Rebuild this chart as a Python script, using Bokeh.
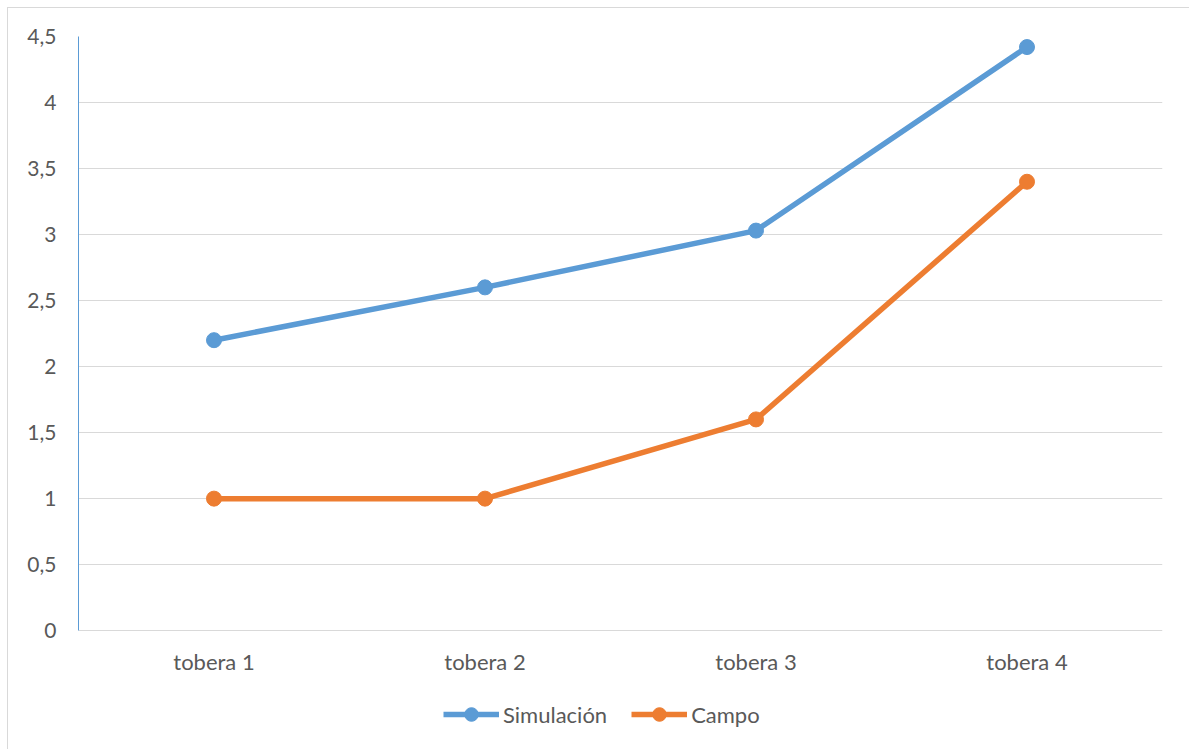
from bokeh.plotting import figure
from bokeh.models import FactorRange, Range1d, FixedTicker, Legend, LegendItem
from bokeh.core.properties import value
from bokeh.embed import file_html
from bokeh.resources import INLINE

categories = ["tobera 1", "tobera 2", "tobera 3", "tobera 4"]
simulacion = [2.2, 2.6, 3.03, 4.42]
campo = [1.0, 1.0, 1.6, 3.4]
y_ticks = [0, 0.5, 1, 1.5, 2, 2.5, 3, 3.5, 4, 4.5]
y_tick_labels = ["0", "0,5", "1", "1,5", "2", "2,5", "3", "3,5", "4", "4,5"]

FONT = "Lato"
BLUE = "#5b9bd5"
ORANGE = "#ed7d31"
GRID = "#d9d9d9"
TEXT = "#595959"

# frame extends below zero to host the category labels and the legend
p = figure(
    x_range=FactorRange(factors=categories, range_padding=0),
    y_range=Range1d(-0.9, 4.5),
    frame_width=1084, frame_height=713,
    output_backend="svg", toolbar_location=None,
    min_border_left=70, min_border_right=28, min_border_top=28, min_border_bottom=0,
)
p.styles = {"margin-left": "7px", "margin-top": "7px",
            "border-top": "1px solid #d9d9d9", "border-left": "1px solid #d9d9d9"}
p.outline_line_color = None
p.background_fill_color = "white"
p.border_fill_color = "white"

p.xgrid.grid_line_color = None
p.ygrid.grid_line_color = GRID
p.ygrid.grid_line_width = 1

p.yaxis.ticker = FixedTicker(ticks=y_ticks)
p.yaxis.bounds = (0, 4.5)
p.yaxis.major_label_overrides = {t: l for t, l in zip(y_ticks, y_tick_labels)}
p.yaxis.axis_line_color = BLUE
p.yaxis.axis_line_width = 1
p.yaxis.major_tick_line_color = None
p.yaxis.minor_tick_line_color = None
p.yaxis.major_tick_out = 0
p.yaxis.major_tick_in = 0
p.yaxis.major_label_standoff = 22
p.yaxis.major_label_text_font = FONT
p.yaxis.major_label_text_color = TEXT
p.yaxis.major_label_text_font_size = "21px"

p.xaxis.visible = False

# category labels below the zero line
p.text(x=categories, y=[-0.23] * len(categories), text=categories,
       text_font=value(FONT), text_font_size="22px", text_color=TEXT,
       text_align="center", text_baseline="middle")

l1 = p.line(categories, simulacion, line_color=BLUE, line_width=5.5)
s1 = p.scatter(categories, simulacion, size=15, fill_color=BLUE, line_color=BLUE)
l2 = p.line(categories, campo, line_color=ORANGE, line_width=5.5)
s2 = p.scatter(categories, campo, size=15, fill_color=ORANGE, line_color=ORANGE)

legend = Legend(items=[
    LegendItem(label="Simulación", renderers=[l1, s1]),
    LegendItem(label="Campo", renderers=[l2, s2]),
], orientation="horizontal", location=(365, 18))
legend.label_text_font = FONT
legend.label_text_font_size = "22px"
legend.label_text_color = TEXT
legend.glyph_width = 56
legend.glyph_height = 34
legend.label_standoff = 4
legend.spacing = 24
legend.padding = 0
legend.margin = 0
legend.border_line_color = None
legend.background_fill_alpha = 0
p.add_layout(legend, "center")

open("out.html", "w").write(file_html(p, INLINE))
